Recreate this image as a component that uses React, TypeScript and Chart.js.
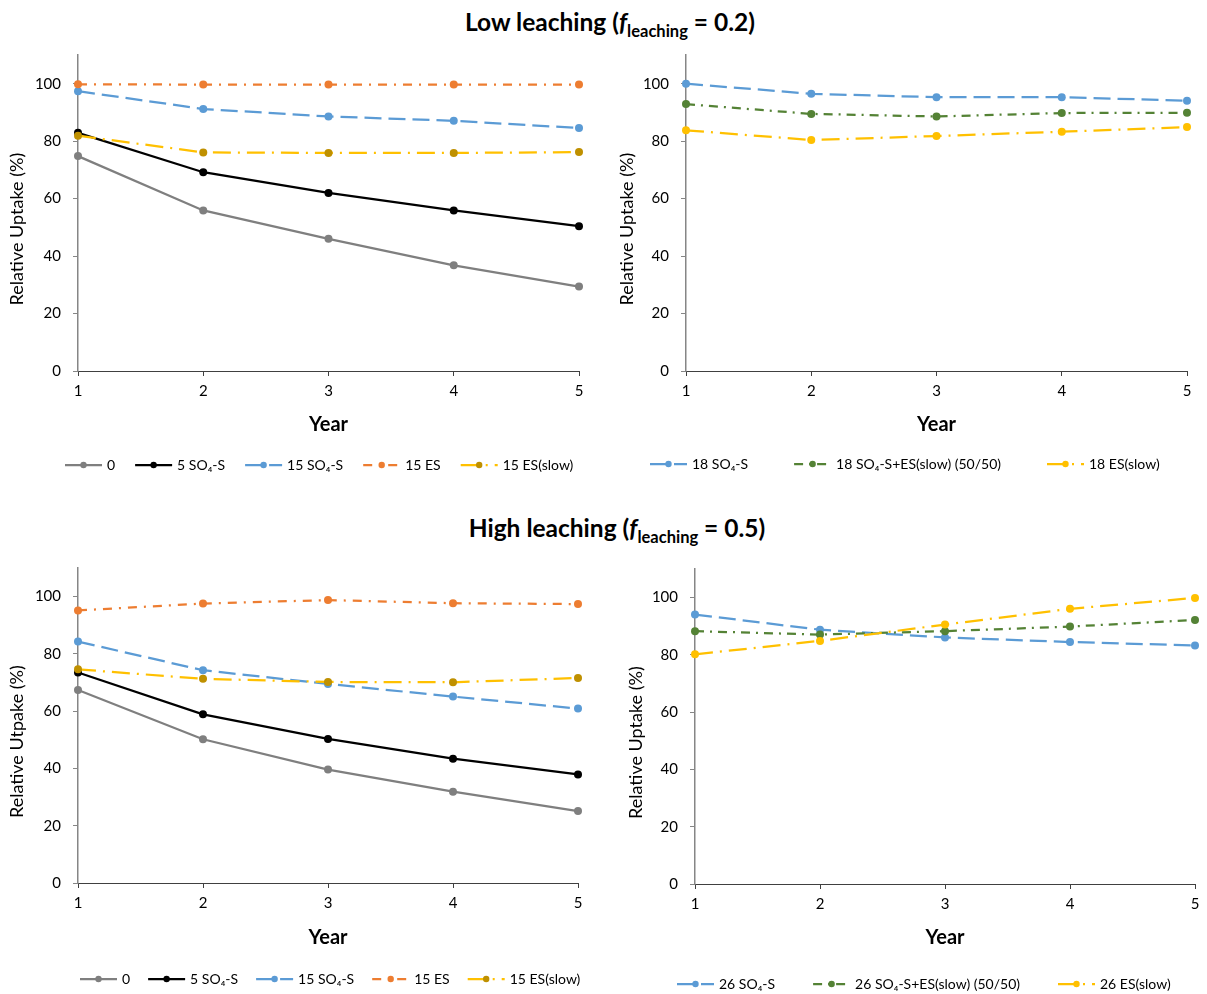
import React, { useEffect, useRef } from "react";
import { Chart, registerables } from "chart.js";
Chart.register(...registerables);

const FONT = "Lato, 'Liberation Sans', sans-serif";

// ---------- data ----------
const years = ["1", "2", "3", "4", "5"];
const yTicks = [0, 20, 40, 60, 80, 100];

// Low leaching – left panel
const low0 = [74.8, 55.9, 46.0, 36.8, 29.4];
const low5SO4 = [82.9, 69.2, 62.0, 55.9, 50.4];
const low15SO4 = [97.4, 91.2, 88.6, 87.1, 84.6];
const low15ES = [99.8, 99.7, 99.7, 99.7, 99.7];
const low15ESslow = [81.9, 76.1, 75.9, 75.9, 76.2];
const lowLeftLabels = ["0", "5 SO\u2084-S", "15 SO\u2084-S", "15 ES", "15 ES(slow)"];

// Low leaching – right panel
const low18SO4 = [100, 96.5, 95.3, 95.3, 94.1];
const low18Mix = [92.9, 89.5, 88.6, 89.8, 89.9];
const low18ESslow = [83.8, 80.4, 81.8, 83.3, 84.9];
const lowRightLabels = ["18 SO\u2084-S", "18 SO\u2084-S+ES(slow) (50/50)", "18 ES(slow)"];

// High leaching – left panel
const high0 = [67.4, 50.2, 39.6, 31.9, 25.1];
const high5SO4 = [73.5, 58.9, 50.3, 43.4, 37.9];
const high15SO4 = [84.3, 74.3, 69.5, 65.1, 60.9];
const high15ES = [95.2, 97.6, 98.8, 97.7, 97.4];
const high15ESslow = [74.6, 71.3, 70.2, 70.1, 71.6];
const highLeftLabels = ["0", "5 SO\u2084-S", "15 SO\u2084-S", "15 ES", "15 ES(slow)"];

// High leaching – right panel
const high26SO4 = [94.1, 88.8, 86.1, 84.5, 83.3];
const high26Mix = [88.3, 87.1, 88.3, 89.9, 92.2];
const high26ESslow = [80.2, 84.9, 90.6, 96.1, 99.9];
const highRightLabels = ["26 SO\u2084-S", "26 SO\u2084-S+ES(slow) (50/50)", "26 ES(slow)"];

// ---------- styles ----------
type Sty = { line: string; marker: string; dash: number[] };
const sGray: Sty = { line: "#7F7F7F", marker: "#7F7F7F", dash: [] };
const sBlack: Sty = { line: "#000000", marker: "#000000", dash: [] };
const sBlue: Sty = { line: "#5B9BD5", marker: "#5B9BD5", dash: [17, 7] };
const sOrange: Sty = { line: "#ED7D31", marker: "#ED7D31", dash: [9, 7, 2, 7] };
const sYellowDk: Sty = { line: "#FFC000", marker: "#BF9000", dash: [18, 7, 2, 7] };
const sGreen: Sty = { line: "#548235", marker: "#548235", dash: [9, 6, 2, 6] };
const sYellow: Sty = { line: "#FFC000", marker: "#FFC000", dash: [18, 7, 2, 7] };

const lineLegend = {
  id: "lineLegend",
  afterDraw(chart: any, _args: any, opts: any) {
    const ctx = chart.ctx;
    ctx.save();
    ctx.font = opts.font;
    let x = opts.x;
    const y = opts.y;
    chart.data.datasets.forEach((ds: any) => {
      ctx.save();
      ctx.strokeStyle = ds.borderColor;
      ctx.lineWidth = ds.borderWidth;
      ctx.setLineDash(ds.borderDash || []);
      ctx.beginPath();
      ctx.moveTo(x, y);
      ctx.lineTo(x + opts.lineLen, y);
      ctx.stroke();
      ctx.setLineDash([]);
      ctx.fillStyle = ds.pointBackgroundColor;
      ctx.beginPath();
      ctx.arc(x + opts.lineLen / 2, y, opts.r, 0, Math.PI * 2);
      ctx.fill();
      ctx.restore();
      ctx.fillStyle = "#000";
      ctx.textBaseline = "middle";
      ctx.textAlign = "left";
      const tx = x + opts.lineLen + opts.textGap;
      ctx.fillText(ds.label, tx, y);
      x = tx + ctx.measureText(ds.label).width + opts.gap;
    });
    ctx.restore();
  },
};

type PanelProps = {
  left: number;
  top: number;
  width: number;
  height: number;
  padL: number;
  padR: number;
  padT: number;
  padB: number;
  yW: number;
  xH: number;
  yTitle: string;
  series: number[][];
  labels: string[];
  styles: Sty[];
  legX: number;
  legY: number;
  legGap: number;
};

function Panel(p: PanelProps) {
  const ref = useRef<HTMLCanvasElement>(null);
  useEffect(() => {
    if (!ref.current) return;
    const n = p.series.length;
    const chart = new Chart(ref.current, {
      type: "line",
      data: {
        labels: years,
        datasets: p.series.map((d, i) => ({
          label: p.labels[i],
          data: d,
          borderColor: p.styles[i].line,
          borderWidth: 2.25,
          borderDash: p.styles[i].dash,
          pointBackgroundColor: p.styles[i].marker,
          pointBorderColor: p.styles[i].marker,
          pointBorderWidth: 0,
          pointRadius: 4,
          tension: 0,
          fill: false,
          clip: false as any,
          order: n - i,
        })),
      },
      options: {
        animation: false,
        responsive: false,
        devicePixelRatio: 1,
        layout: {
          autoPadding: false,
          padding: { left: p.padL, right: p.padR, top: p.padT, bottom: p.padB },
        },
        plugins: {
          legend: { display: false },
          tooltip: { enabled: false },
          lineLegend: {
            x: p.legX,
            y: p.legY,
            gap: p.legGap,
            lineLen: 37,
            textGap: 5,
            r: 3.2,
            font: `14px ${FONT}`,
          },
        } as any,
        scales: {
          x: {
            type: "category",
            offset: false,
            afterFit: (s: any) => {
              s.height = p.xH;
            },
            grid: {
              display: true,
              drawOnChartArea: false,
              drawTicks: true,
              tickLength: 5,
              tickColor: "#404040",
              offset: false,
            },
            border: { display: true, color: "#404040", width: 1 },
            ticks: {
              padding: 6,
              color: "#000",
              font: { family: FONT, size: 15 },
              maxRotation: 0,
              autoSkip: false,
            },
            title: {
              display: true,
              text: "Year",
              color: "#000",
              padding: 0,
              font: { family: FONT, size: 20, weight: "bold" },
            },
          },
          y: {
            type: "linear",
            min: 0,
            max: 110,
            afterBuildTicks: (s: any) => {
              s.ticks = yTicks.map((v) => ({ value: v }));
            },
            afterFit: (s: any) => {
              s.width = p.yW;
              s.paddingTop = 0;
              s.paddingBottom = 0;
            },
            grid: {
              display: true,
              drawOnChartArea: false,
              drawTicks: true,
              tickLength: 5,
              tickColor: "#868686",
            },
            border: { display: true, color: "#868686", width: 1.5 },
            ticks: { padding: 12, color: "#000", font: { family: FONT, size: 15 } },
            title: {
              display: true,
              text: p.yTitle + "       ",
              color: "#000",
              padding: 0,
              font: { family: FONT, size: 18 },
            },
          },
        },
      },
      plugins: [lineLegend as any],
    });
    return () => chart.destroy();
  }, []);
  return (
    <canvas
      ref={ref}
      width={p.width}
      height={p.height}
      style={{ position: "absolute", left: p.left, top: p.top, width: p.width, height: p.height }}
    />
  );
}

const titleStyle: React.CSSProperties = {
  position: "absolute",
  transform: "translateX(-50%)",
  whiteSpace: "nowrap",
  fontFamily: FONT,
  fontWeight: "bold",
  fontSize: 24.5,
  lineHeight: "28px",
  color: "#000",
};

export default function App() {
  return (
    <div
      style={{
        position: "absolute",
        left: 0,
        top: 0,
        width: 1207,
        height: 994,
        background: "#fff",
        overflow: "hidden",
      }}
    >
      <div style={{ ...titleStyle, left: 610, top: 8 }}>
        Low leaching (<i>f</i>
        <sub style={{ fontSize: 16.5 }}>leaching</sub> = 0.2)
      </div>
      <div style={{ ...titleStyle, left: 617, top: 514 }}>
        High leaching (<i>f</i>
        <sub style={{ fontSize: 16.5 }}>leaching</sub> = 0.5)
      </div>

      <Panel
        left={0}
        top={45}
        width={600}
        height={445}
        padL={6}
        padR={21}
        padT={10}
        padB={53}
        yW={72}
        xH={66}
        yTitle="Relative Uptake (%)"
        series={[low0, low5SO4, low15SO4, low15ES, low15ESslow]}
        labels={lowLeftLabels}
        styles={[sGray, sBlack, sBlue, sOrange, sYellowDk]}
        legX={65}
        legY={420}
        legGap={20}
      />
      <Panel
        left={600}
        top={45}
        width={607}
        height={445}
        padL={16}
        padR={20}
        padT={10}
        padB={53}
        yW={70}
        xH={66}
        yTitle="Relative Uptake (%)"
        series={[low18SO4, low18Mix, low18ESslow]}
        labels={lowRightLabels}
        styles={[sBlue, sGreen, sYellow]}
        legX={50}
        legY={419}
        legGap={46}
      />
      <Panel
        left={0}
        top={555}
        width={600}
        height={439}
        padL={6}
        padR={22}
        padT={13}
        padB={44}
        yW={72}
        xH={67}
        yTitle="Relative Utpake (%)"
        series={[high0, high5SO4, high15SO4, high15ES, high15ESslow]}
        labels={highLeftLabels}
        styles={[sGray, sBlack, sBlue, sOrange, sYellowDk]}
        legX={80}
        legY={424}
        legGap={18}
      />
      <Panel
        left={600}
        top={555}
        width={607}
        height={439}
        padL={25}
        padR={12}
        padT={14}
        padB={44}
        yW={70}
        xH={66}
        yTitle="Relative Uptake (%)"
        series={[high26SO4, high26Mix, high26ESslow]}
        labels={highRightLabels}
        styles={[sBlue, sGreen, sYellow]}
        legX={77}
        legY={429}
        legGap={38}
      />
    </div>
  );
}
